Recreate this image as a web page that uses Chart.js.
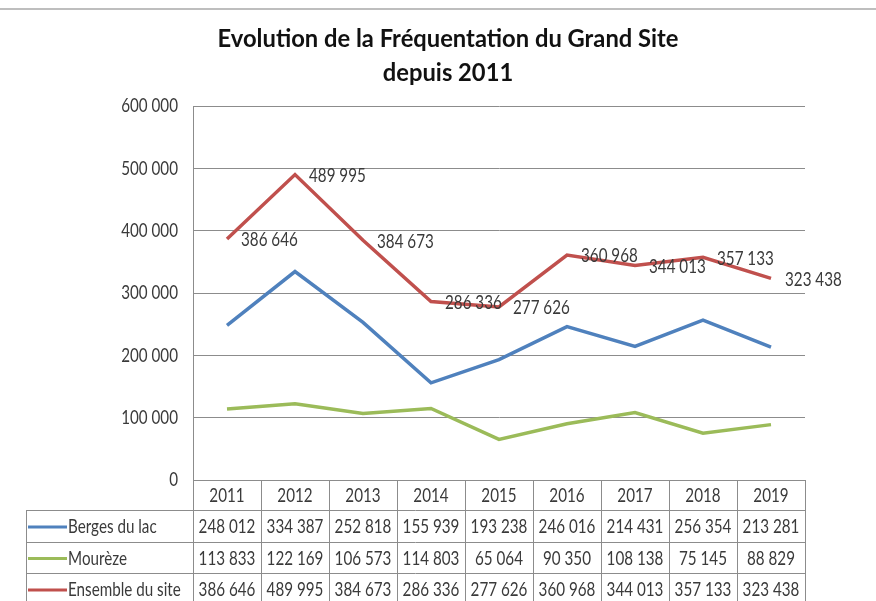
<!DOCTYPE html>
<html>
<head>
<meta charset="utf-8">
<script src="https://cdn.jsdelivr.net/npm/chart.js@4/dist/chart.umd.min.js"></script>
<style>
  body { margin: 0; background: #fff; }
  #chart { display: block; }
</style>
</head>
<body>
<canvas id="chart" width="876" height="601"></canvas>
<script>
// données
const annees = ['2011', '2012', '2013', '2014', '2015', '2016', '2017', '2018', '2019'];
const bergesDuLac = [248012, 334387, 252818, 155939, 193238, 246016, 214431, 256354, 213281];
const moureze = [113833, 122169, 106573, 114803, 65064, 90350, 108138, 75145, 88829];
const ensembleDuSite = [386646, 489995, 384673, 286336, 277626, 360968, 344013, 357133, 323438];
const yTicks = [0, 100000, 200000, 300000, 400000, 500000, 600000];
const titre = ['Evolution de la Fréquentation du Grand Site', 'depuis 2011'];

const gris = '#8c8c8c';
const texte = '#3a3a3a';

function fmt(v) {
    return String(v).replace(/\B(?=(\d{3})+(?!\d))/g, ' ');
}

// texte "étroit" façon Calibri : Lato compressé horizontalement
function ecrire(ctx, str, x, y, align, size, sx, bold) {
    ctx.save();
    ctx.translate(x, y);
    ctx.scale(sx, 1);
    ctx.font = (bold ? 'bold ' : '') + size + 'px Lato, "Open Sans", sans-serif';
    ctx.textAlign = align;
    ctx.textBaseline = 'middle';
    ctx.fillText(str, 0, 0);
    ctx.restore();
}

const tableau = {
    id: 'tableau',
    beforeDraw(chart) {
        const ctx = chart.ctx;
        ctx.save();
        ctx.strokeStyle = '#a8a8a8';
        ctx.lineWidth = 1.5;
        ctx.beginPath();
        ctx.moveTo(0, 9);
        ctx.lineTo(876, 9);
        ctx.stroke();
        ctx.fillStyle = '#111';
        ecrire(ctx, titre[0], 448, 39, 'center', 25, 0.95, true);
        ecrire(ctx, titre[1], 448, 73, 'center', 25, 0.95, true);
        ctx.restore();
    },
    afterDatasetsDraw(chart) {
        const ctx = chart.ctx;
        ctx.save();
        ctx.fillStyle = texte;
        // graduations de l'axe Y
        const y = chart.scales.y;
        y.ticks.forEach(t => {
            ecrire(ctx, fmt(t.value), 178, y.getPixelForValue(t.value), 'right', 20, 0.76);
        });
        // étiquettes de la série "Ensemble du site"
        const meta = chart.getDatasetMeta(2);
        meta.data.forEach((pt, i) => {
            ecrire(ctx, fmt(ensembleDuSite[i]), pt.x + 14, pt.y + 1, 'left', 20, 0.76);
        });
        ctx.restore();
    },
    afterDraw(chart) {
        const ctx = chart.ctx;
        const x = chart.scales.x;
        const area = chart.chartArea;
        const colW = (area.right - area.left) / annees.length;
        const left = 26;
        const rows = [area.bottom, area.bottom + 30, area.bottom + 62, area.bottom + 93, area.bottom + 125];
        const series = [
            { nom: 'Berges du lac', data: bergesDuLac, couleur: '#4F81BD' },
            { nom: 'Mourèze', data: moureze, couleur: '#9BBB59' },
            { nom: 'Ensemble du site', data: ensembleDuSite, couleur: '#C0504D' }
        ];
        ctx.save();
        ctx.strokeStyle = gris;
        ctx.lineWidth = 1;
        ctx.beginPath();
        // verticales
        for (let i = 0; i <= annees.length; i++) {
            const xx = Math.round(area.left + i * colW) + 0.5;
            ctx.moveTo(xx, area.bottom);
            ctx.lineTo(xx, 601);
        }
        ctx.moveTo(left + 0.5, rows[1]);
        ctx.lineTo(left + 0.5, 601);
        // horizontales
        for (let r = 1; r < 4; r++) {
            const yy = Math.round(rows[r]) + 0.5;
            ctx.moveTo(left, yy);
            ctx.lineTo(area.right, yy);
        }
        ctx.stroke();

        ctx.fillStyle = texte;
        // en-tête : années
        annees.forEach((a, i) => {
            ecrire(ctx, a, x.getPixelForValue(i), (rows[0] + rows[1]) / 2 + 1, 'center', 20, 0.76);
        });
        series.forEach((s, r) => {
            const cy = (rows[r + 1] + rows[r + 2]) / 2 + 1;
            ctx.strokeStyle = s.couleur;
            ctx.lineWidth = 3;
            ctx.beginPath();
            ctx.moveTo(left + 2, cy);
            ctx.lineTo(left + 41, cy);
            ctx.stroke();
            ecrire(ctx, s.nom, left + 42, cy, 'left', 20, 0.76);
            s.data.forEach((v, i) => {
                ecrire(ctx, fmt(v), x.getPixelForValue(i), cy, 'center', 20, 0.76);
            });
        });
        ctx.restore();
    }
};

new Chart(document.getElementById('chart'), {
    type: 'line',
    data: {
        labels: annees,
        datasets: [
            { label: 'Berges du lac', data: bergesDuLac, borderColor: '#4F81BD', backgroundColor: '#4F81BD' },
            { label: 'Mourèze', data: moureze, borderColor: '#9BBB59', backgroundColor: '#9BBB59' },
            { label: 'Ensemble du site', data: ensembleDuSite, borderColor: '#C0504D', backgroundColor: '#C0504D' }
        ]
    },
    options: {
        responsive: false,
        animation: false,
        layout: { padding: { top: 106, left: 0, right: 71, bottom: 0 } },
        elements: {
            line: { borderWidth: 3.5, tension: 0 },
            point: { radius: 0 }
        },
        plugins: {
            legend: { display: false },
            tooltip: { enabled: false },
            title: { display: false }
        },
        scales: {
            x: {
                offset: true,
                grid: { display: false },
                border: { display: false },
                ticks: { display: false },
                afterFit(s) { s.height = 121; }
            },
            y: {
                min: 0,
                max: 600000,
                afterBuildTicks(s) { s.ticks = yTicks.map(v => ({ value: v })); },
                grid: { color: gris, lineWidth: 1, drawTicks: false },
                border: { display: true, color: gris },
                ticks: { display: false },
                afterFit(s) { s.width = 193; }
            }
        }
    },
    plugins: [tableau]
});
</script>
</body>
</html>
